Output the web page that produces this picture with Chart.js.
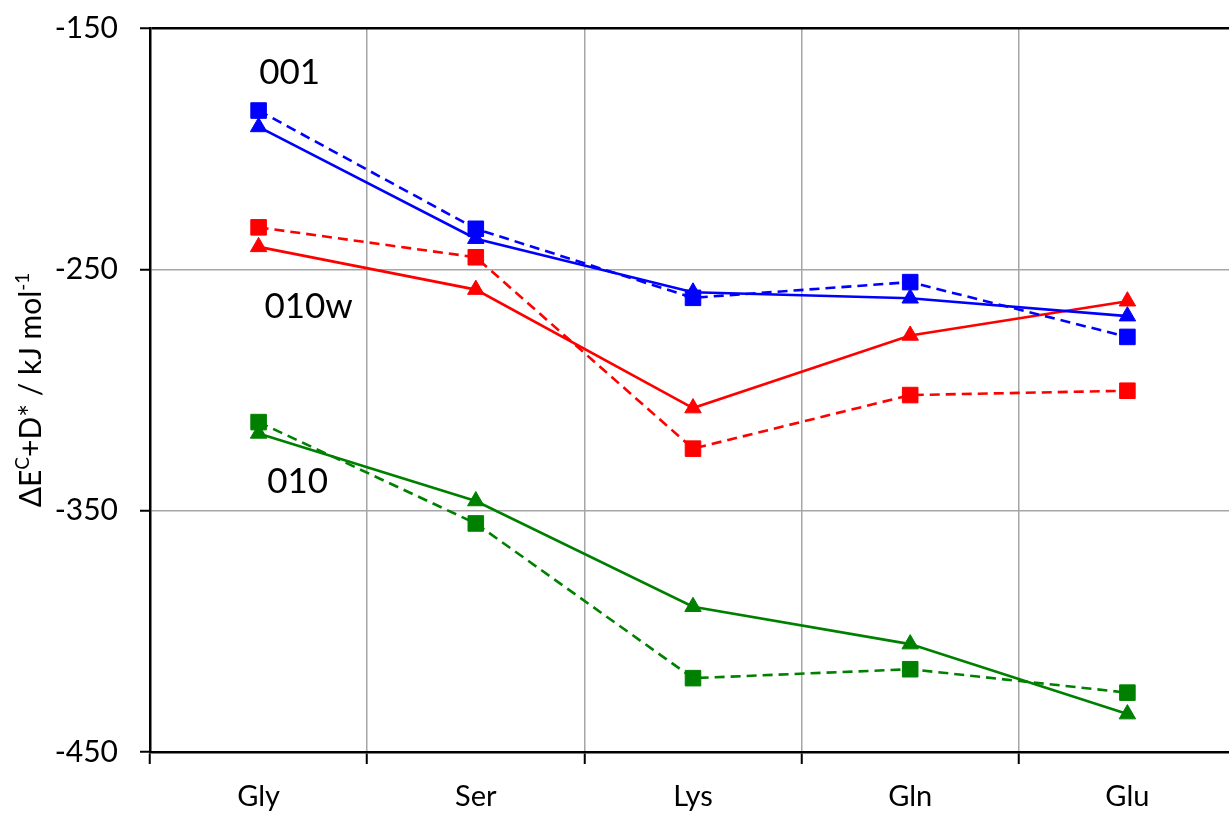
<!DOCTYPE html>
<html>
<head>
<meta charset="utf-8">
<script src="https://cdn.jsdelivr.net/npm/chart.js@4/dist/chart.umd.min.js"></script>
<style>
  html, body { margin: 0; padding: 0; background: #fff; overflow: hidden; }
  #wrap { width: 1248px; height: 818px; }
</style>
</head>
<body>
<div id="wrap"><canvas id="c" width="1248" height="818"></canvas></div>
<script>
// ---- data ----
const categories = ['Gly', 'Ser', 'Lys', 'Gln', 'Glu'];
const s001_dash = [-184.2, -233.2, -261.8, -255.3, -278.0];
const s001_solid = [-191.0, -237.3, -259.5, -262.0, -269.4];
const s010w_dash = [-232.6, -245.0, -324.3, -302.1, -300.3];
const s010w_solid = [-240.7, -258.4, -307.5, -277.4, -263.2];
const s010_dash = [-313.3, -355.3, -419.4, -415.7, -425.4];
const s010_solid = [-318.0, -346.0, -389.8, -405.3, -434.3];
const yTicks = [-450, -350, -250, -150];
const seriesLabels = ['001', '010w', '010'];
const yTitleParts = [['ΔE', false], ['C', true], ['+D* / kJ mol', false], ['-1', true]];

const FONT = 'Lato, "Open Sans", sans-serif';
const BLUE = '#0000ff', RED = '#ff0000', GREEN = '#008000';
const GRIDC = '#a6a6a6';

function ds(label, data, color, dashed) {
  return {
    label, data,
    borderColor: color, backgroundColor: color,
    borderWidth: 2.6,
    borderDash: dashed ? [10, 6] : [],
    pointStyle: dashed ? 'rect' : 'triangle',
    pointRadius: dashed ? 11 : 9.5,
    pointHoverRadius: dashed ? 11 : 9.5,
    pointBorderWidth: 1,
    pointBackgroundColor: color,
    pointBorderColor: color,
    tension: 0,
    fill: false
  };
}

const labelPlugin = {
  id: 'labels',
  afterDatasetsDraw(chart) {
    const ctx = chart.ctx;
    const xs = chart.scales.x, ys = chart.scales.y;
    const pos = [[0, 31, -168.5], [0, 50, -265.4], [0, 39, -337.9]];
    ctx.save();
    ctx.fillStyle = '#000';
    ctx.font = '35px ' + FONT;
    ctx.textAlign = 'center';
    ctx.textBaseline = 'middle';
    seriesLabels.forEach((t, i) => {
      const p = pos[i];
      ctx.fillText(t, xs.getPixelForValue(p[0]) + p[1], ys.getPixelForValue(p[2]));
    });
    ctx.restore();
  }
};

const yTitlePlugin = {
  id: 'ytitle',
  afterDraw(chart) {
    const ctx = chart.ctx;
    const ys = chart.scales.y;
    const big = 30, small = 19;
    ctx.save();
    let total = 0;
    yTitleParts.forEach(([t, sup]) => {
      ctx.font = (sup ? small : big) + 'px ' + FONT;
      total += ctx.measureText(t).width;
    });
    const cy = (ys.top + ys.bottom) / 2;
    ctx.translate(31, cy);
    ctx.rotate(-Math.PI / 2);
    ctx.fillStyle = '#000';
    ctx.textBaseline = 'alphabetic';
    ctx.textAlign = 'left';
    let x = -total / 2;
    yTitleParts.forEach(([t, sup]) => {
      ctx.font = (sup ? small : big) + 'px ' + FONT;
      ctx.fillText(t, x, sup ? 10 - 12 : 10);
      x += ctx.measureText(t).width;
    });
    ctx.restore();
  }
};

new Chart(document.getElementById('c'), {
  type: 'line',
  data: {
    labels: categories,
    datasets: [
      ds('001 dashed', s001_dash, BLUE, true),
      ds('001', s001_solid, BLUE, false),
      ds('010w dashed', s010w_dash, RED, true),
      ds('010w', s010w_solid, RED, false),
      ds('010 dashed', s010_dash, GREEN, true),
      ds('010', s010_solid, GREEN, false)
    ]
  },
  options: {
    responsive: false,
    animation: false,
    devicePixelRatio: 1,
    layout: { padding: { top: 28, left: 0, right: 5, bottom: 0 } },
    plugins: { legend: { display: false }, tooltip: { enabled: false } },
    scales: {
      x: {
        type: 'category',
        offset: true,
        grid: {
          offset: true,
          color: GRIDC,
          lineWidth: 1.5,
          tickColor: '#000',
          tickLength: 12,
          tickWidth: 2
        },
        border: { color: '#000', width: 2.5 },
        ticks: { color: '#000', font: { family: FONT, size: 29 }, padding: 15, maxRotation: 0 },
        afterFit(s) { s.height = 66; }
      },
      y: {
        min: -450, max: -150,
        afterBuildTicks(s) { s.ticks = yTicks.map(v => ({ value: v })); },
        grid: {
          color: c => (c.tick && c.tick.value === -150) ? '#000' : GRIDC,
          lineWidth: c => (c.tick && c.tick.value === -150) ? 2.5 : 1.5,
          tickColor: '#000',
          tickLength: 10,
          tickWidth: 2
        },
        border: { color: '#000', width: 2.5 },
        ticks: { color: '#000', font: { family: FONT, size: 30, lineHeight: 0.4 }, padding: 22 },
        afterFit(s) { s.width = 150; }
      }
    }
  },
  plugins: [labelPlugin, yTitlePlugin]
});
</script>
</body>
</html>
